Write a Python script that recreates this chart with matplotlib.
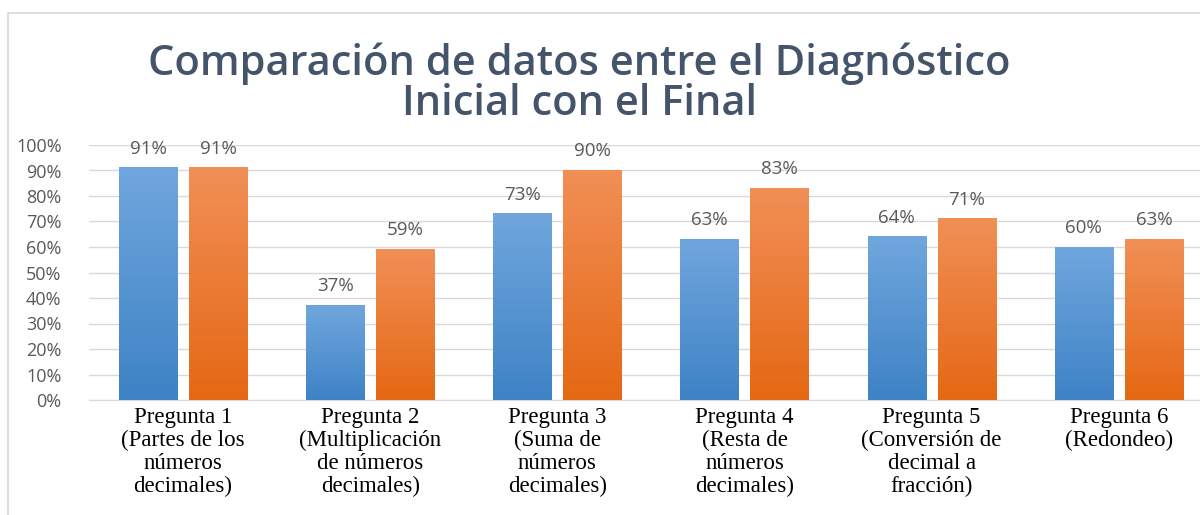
import numpy as np
import matplotlib
matplotlib.use('Agg')
import matplotlib.pyplot as plt
from matplotlib.patches import Rectangle

# datos
categorias = ['Pregunta 1\n(Partes de los\nnúmeros\ndecimales)',
              'Pregunta 2\n(Multiplicación\nde números\ndecimales)',
              'Pregunta 3\n(Suma de\nnúmeros\ndecimales)',
              'Pregunta 4\n(Resta de\nnúmeros\ndecimales)',
              'Pregunta 5\n(Conversión de\ndecimal a\nfracción)',
              'Pregunta 6\n(Redondeo)']
inicial = [91, 37, 73, 63, 64, 60]
final = [91, 59, 90, 83, 71, 63]
titulo = 'Comparación de datos entre el Diagnóstico\nInicial con el Final'

fig = plt.figure(figsize=(12, 5.15), dpi=100)
fig.patch.set_facecolor('white')

# borde del gráfico
fig.patches.append(Rectangle((8 / 1200, -0.1), 1.2, 1 - 13 / 515 + 0.1,
                             transform=fig.transFigure, fill=False,
                             edgecolor='#d9d9d9', linewidth=1.2))

ax = fig.add_axes([89.4 / 1200, 115 / 515, 1123 / 1200, 255 / 515])

x = np.arange(len(categorias))
ancho = 0.31
sep = 0.064
pos_ini = x - (ancho + sep) / 2
pos_fin = x + (ancho + sep) / 2


def barras_degradado(pos, vals, c_top, c_bot):
    bars = ax.bar(pos, vals, width=ancho, color='none', edgecolor='none', zorder=3)
    cmap = matplotlib.colors.LinearSegmentedColormap.from_list('g', [c_bot, c_top])
    grad = np.linspace(0, 1, 100).reshape(-1, 1)
    for b in bars:
        x0 = b.get_x()
        ax.imshow(grad, cmap=cmap, origin='lower', aspect='auto', zorder=3,
                  extent=[x0, x0 + b.get_width(), 0, b.get_height()])
    return bars


barras_degradado(pos_ini, inicial, '#70a6dd', '#3e83c6')
barras_degradado(pos_fin, final, '#f18f56', '#e56814')

for p, v in zip(pos_ini, inicial):
    ax.text(p, v + 4, f'{v}%', ha='center', va='bottom', fontsize=13.5,
            color='#595959', family='Open Sans')
for p, v in zip(pos_fin, final):
    ax.text(p, v + 4, f'{v}%', ha='center', va='bottom', fontsize=13.5,
            color='#595959', family='Open Sans')

ax.set_xlim(-0.5, len(categorias) - 0.5)
ax.set_ylim(0, 100)
ax.set_yticks(range(0, 101, 10))
ax.set_yticklabels([f'{t}%' for t in range(0, 101, 10)], family='Open Sans',
                   fontsize=13, color='#595959')
ax.tick_params(axis='y', length=0, pad=20)
ax.set_xticks(x)
ax.set_xticklabels(categorias, family='Liberation Serif', fontsize=16.5,
                   color='black', linespacing=1.12)
ax.tick_params(axis='x', length=0, pad=5)
ax.grid(axis='y', color='#d9d9d9', linewidth=1, zorder=0)
ax.set_axisbelow(True)
for s in ['top', 'right', 'left']:
    ax.spines[s].set_visible(False)
ax.spines['bottom'].set_color('#d9d9d9')

fig.text(0.4825, 1 - 84 / 515, titulo, ha='center', va='center',
         fontsize=30, fontweight='semibold', family='Open Sans',
         color='#44546a', linespacing=0.95)

fig.savefig('out.png', dpi=100)
